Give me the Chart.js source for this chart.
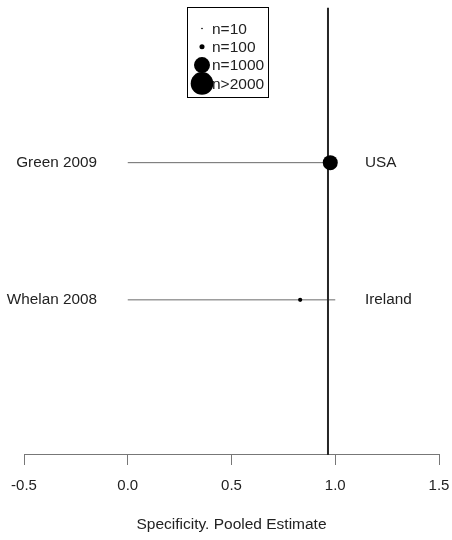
<!DOCTYPE html>
<html>
<head>
<meta charset="utf-8">
<title>Specificity forest plot</title>
<script src="https://cdn.jsdelivr.net/npm/chart.js@4/dist/chart.umd.min.js"></script>
<style>
  html, body { margin: 0; padding: 0; background: #ffffff; }
  canvas { display: block; }
</style>
</head>
<body>
<canvas id="forest" width="452" height="540"></canvas>
<script>
// Studies, top to bottom
const studies = ["Green 2009", "Whelan 2008"];
const countries = ["USA", "Ireland"];
// Specificity point estimates and confidence limits
const estimates = [0.976, 0.831];
const lowerCI = [0.0, 0.0];
const upperCI = [1.0, 1.0];
// Sample sizes (drive the marker size)
const sampleSizes = [880, 70];
// Pooled specificity estimate
const pooled = 0.965;
// Marker size key
const keyLabels = ["n=10", "n=100", "n=1000", "n>2000"];
const keySizes = [10, 100, 1000, 2000];
// X axis tick values
const xTicks = [-0.5, 0.0, 0.5, 1.0, 1.5];

const FONT = "'Liberation Sans', Arial, sans-serif";
const TEXT = "#222222";
const Y_MIN = -0.131, Y_MAX = 3.131;

// marker radius grows with the square root of the sample size
const radiusFor = n => 8 * Math.sqrt(n / 1000);

// row position: first study on top
const rowY = i => studies.length - i;

const datasets = [];
studies.forEach((s, i) => {
  datasets.push({
    type: "line",
    data: [{ x: lowerCI[i], y: rowY(i) }, { x: upperCI[i], y: rowY(i) }],
    borderColor: "#6a6a6a",
    borderWidth: 1,
    pointRadius: 0,
    order: 3
  });
});
datasets.push({
  type: "line",
  data: [{ x: pooled, y: Y_MIN }, { x: pooled, y: Y_MAX }],
  borderColor: "#262626",
  borderWidth: 2,
  pointRadius: 0,
  order: 2
});
datasets.push({
  type: "scatter",
  data: estimates.map((v, i) => ({ x: v, y: rowY(i) })),
  pointRadius: sampleSizes.map(radiusFor),
  pointBackgroundColor: "#000000",
  pointBorderColor: "#000000",
  pointBorderWidth: 0,
  order: 1
});

// study names on the left, countries on the right
const rowLabels = {
  id: "rowLabels",
  afterDatasetsDraw(chart) {
    const { ctx, scales } = chart;
    ctx.save();
    ctx.font = "15.3px " + FONT;
    ctx.fillStyle = TEXT;
    ctx.textBaseline = "middle";
    studies.forEach((s, i) => {
      const y = scales.y.getPixelForValue(rowY(i));
      ctx.textAlign = "right";
      ctx.fillText(s, 97, y);
      ctx.textAlign = "left";
      ctx.fillText(countries[i], 365, y);
    });
    ctx.restore();
  }
};

// boxed key of marker sizes
const sizeKey = {
  id: "sizeKey",
  afterDraw(chart) {
    const { ctx } = chart;
    const left = 187.5, top = 7.5, w = 81, h = 90;
    ctx.save();
    ctx.strokeStyle = "#000000";
    ctx.lineWidth = 1;
    ctx.fillStyle = "#ffffff";
    ctx.fillRect(left, top, w, h);
    ctx.strokeRect(left, top, w, h);
    ctx.font = "15.5px " + FONT;
    ctx.textBaseline = "middle";
    ctx.textAlign = "left";
    keyLabels.forEach((lab, i) => {
      const y = 28.5 + i * 18.3;
      ctx.fillStyle = "#000000";
      ctx.beginPath();
      ctx.arc(202, y, Math.max(radiusFor(keySizes[i]), 0.8), 0, Math.PI * 2);
      ctx.fill();
      ctx.fillStyle = TEXT;
      ctx.fillText(lab, 212, y + 1);
    });
    ctx.restore();
  }
};

new Chart(document.getElementById("forest"), {
  data: { datasets },
  options: {
    responsive: false,
    devicePixelRatio: 1,
    animation: false,
    layout: { padding: { left: 24, right: 13, top: 7, bottom: 0 } },
    plugins: { legend: { display: false }, tooltip: { enabled: false } },
    scales: {
      x: {
        type: "linear",
        position: "bottom",
        min: -0.5,
        max: 1.5,
        afterBuildTicks: scale => { scale.ticks = xTicks.map(v => ({ value: v })); },
        afterFit: scale => {
          scale.height = 85;
          scale.paddingLeft = 0;
          scale.paddingRight = 0;
        },
        ticks: {
          padding: 12,
          color: TEXT,
          font: { family: FONT, size: 15 },
          callback: v => Number(v).toFixed(1),
          maxRotation: 0
        },
        grid: { drawOnChartArea: false, drawTicks: true, tickLength: 10, color: "#777777" },
        border: { display: true, color: "#777777", width: 1 },
        title: {
          display: true,
          text: "Specificity. Pooled Estimate",
          color: TEXT,
          font: { family: FONT, size: 15.5 },
          padding: { top: 0, bottom: 6 }
        }
      },
      y: {
        type: "linear",
        display: false,
        min: Y_MIN,
        max: Y_MAX
      }
    }
  },
  plugins: [rowLabels, sizeKey]
});
</script>
</body>
</html>
